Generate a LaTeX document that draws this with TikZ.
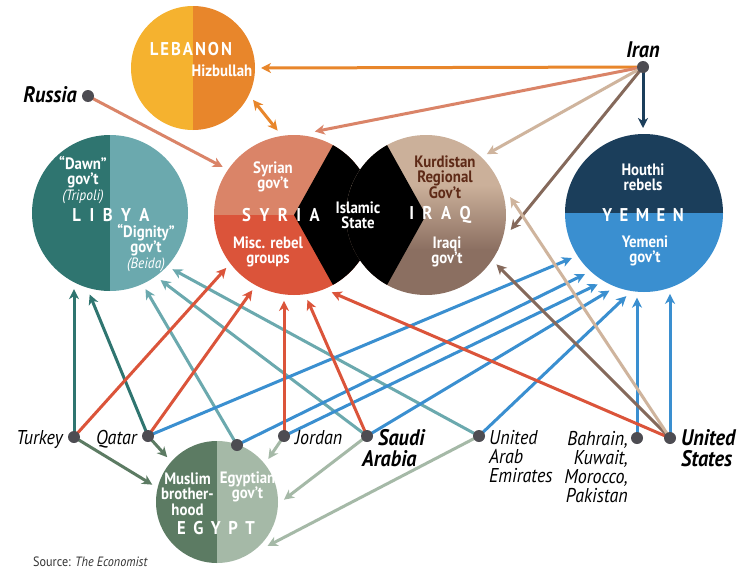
\documentclass[tikz,border=0pt]{standalone}
\usepackage{fontspec}
\setmainfont{PT Sans}[FakeStretch=0.9]
\usetikzlibrary{arrows.meta}
\definecolor{lebL}{HTML}{F5B22F}
\definecolor{lebR}{HTML}{E8862B}
\definecolor{libL}{HTML}{2F7570}
\definecolor{libR}{HTML}{6BA9AE}
\definecolor{syrT}{HTML}{DA8468}
\definecolor{syrB}{HTML}{DB543A}
\definecolor{irqT}{HTML}{CBB09A}
\definecolor{irqB}{HTML}{8B6F61}
\definecolor{yemT}{HTML}{1B3E5B}
\definecolor{yemB}{HTML}{3A8FD0}
\definecolor{egyL}{HTML}{5C7B63}
\definecolor{egyR}{HTML}{A5B9A7}
\definecolor{kurd}{HTML}{5E2A17}
\definecolor{dotc}{HTML}{4D4C52}
\definecolor{tanL}{HTML}{CFB49D}
\definecolor{brnL}{HTML}{85695B}
\newlength\capgap
\newcommand\cg{\hspace{\capgap}}
\newcommand\sublblfont{\fontsize{15}{15.5}\selectfont\mdseries\itshape}
\begin{document}
\begin{tikzpicture}[x=1pt,y=-1pt,
  region/.style={circle,inner sep=0pt,outer sep=6pt,draw=none},
  tipa/.tip={Stealth[length=10pt,width=10pt,inset=3pt]},
  conn/.style={line width=3pt,-tipa},
  dot/.style={circle,fill=dotc,minimum size=12pt,inner sep=0pt},
  lbl/.style={text=white,font=\fontsize{16.5}{15.5}\selectfont\bfseries,align=center,inner sep=0pt},
  capl/.style={text=white,font=\fontsize{18.5}{18}\selectfont\bfseries,inner sep=0pt},
  cty/.style={font=\fontsize{20}{19}\selectfont\itshape,inner sep=0pt},
  ctyb/.style={font=\fontsize{22.5}{21}\selectfont\bfseries\itshape,inner sep=0pt}]
\useasboundingbox (0,0) rectangle (750,581);
\fill[white] (0,0) rectangle (750,581);

% ---------- region circles ----------
\node[region,minimum size=124pt] (lebanon) at (193,68) {};
\node[region,minimum size=156pt] (libya) at (110,213) {};
\node[region,minimum size=160pt] (syria) at (294,215) {};
\node[region,minimum size=160pt] (iraq) at (426,215) {};
\node[region,minimum size=158pt] (yemen) at (644,213) {};
\node[region,minimum size=122pt] (egypt) at (217,502) {};

\begin{scope}
  \clip (193,68) circle[radius=62pt];
  \fill[lebL] (120,0) rectangle (193,140);
  \fill[lebR] (193,0) rectangle (270,140);
\end{scope}
\begin{scope}
  \clip (110,213) circle[radius=78pt];
  \fill[libL] (20,120) rectangle (110,300);
  \fill[libR] (110,120) rectangle (200,300);
\end{scope}
\begin{scope}
  \clip (294,215) circle[radius=80pt];
  \fill[syrT] (200,120) rectangle (380,215);
  \fill[syrB] (200,215) rectangle (380,310);
  \fill[black] (294,215) -- (367,84) -- (450,84) -- (450,346) -- (367,346) -- cycle;
\end{scope}
\begin{scope}
  \clip (426,215) circle[radius=80pt];
  \fill[irqT] (340,120) rectangle (520,186);
  \shade[top color=irqT,bottom color=irqB] (340,185) rectangle (520,250);
  \fill[irqB] (340,249) rectangle (520,310);
  \fill[black] (426,215) -- (353,84) -- (270,84) -- (270,346) -- (353,346) -- cycle;
\end{scope}
\begin{scope}
  \clip (644,213) circle[radius=79pt];
  \fill[yemT] (560,120) rectangle (730,213);
  \fill[yemB] (560,213) rectangle (730,300);
\end{scope}
\begin{scope}
  \clip (217,502) circle[radius=61pt];
  \fill[egyL] (150,430) rectangle (217,570);
  \fill[egyR] (217,430) rectangle (290,570);
\end{scope}

% ---------- actor points ----------
\coordinate (iran) at (643,67);
\coordinate (russia) at (88,96);
\coordinate (turkey) at (74,437);
\coordinate (qatar) at (148,436);
\coordinate (egdot) at (237,445);
\coordinate (jordan) at (284,436);
\coordinate (saudi) at (367,436);
\coordinate (uae) at (479,436);
\coordinate (bahrain) at (637,438);
\coordinate (us) at (670,438);

% ---------- connectors ----------
\draw[conn,lebR] (iran) -- (lebanon.0);
\draw[conn,syrT] (iran) -- (syria.76);
\draw[conn,tanL] (iran) -- (iraq.45);
\draw[conn,brnL] (iran) -- (iraq.350);
\draw[conn,yemT] (iran) -- (iran |- yemen.90);
\draw[line width=3pt,lebR,tipa-tipa] (lebanon.332) -- (syria.101);
\draw[conn,syrT] (russia) -- (syria.146);

\draw[conn,libR] (egdot) -- (libya.295);
\draw[conn,libR] (saudi) -- (libya.307);
\draw[conn,libR] (uae) -- (libya.318);
\draw[conn,libL] (turkey) -- (turkey |- libya.245);
\draw[conn,libL] (qatar) -- (libya.256);

\draw[conn,egyL] (turkey) -- (egypt.165);
\draw[conn,egyL] (qatar) -- (egypt.138);
\draw[conn,egyR] (jordan) -- (egypt.40);
\draw[conn,egyR] (saudi) -- (egypt.2);
\draw[conn,egyR] (uae) -- (egypt.319);

\draw[conn,yemB] (qatar) -- (yemen.212);
\draw[conn,yemB] (egdot) -- (yemen.226);
\draw[conn,yemB] (jordan) -- (yemen.237);
\draw[conn,yemB] (saudi) -- (yemen.246);
\draw[conn,yemB] (uae) -- (yemen.258);
\draw[conn,yemB] (bahrain) -- (bahrain |- yemen.265);
\draw[conn,yemB] (us) -- (us |- yemen.288);

\draw[conn,syrB] (turkey) -- (syria.218);
\draw[conn,syrB] (qatar) -- (syria.241);
\draw[conn,syrB] (jordan) -- (jordan |- syria.268);
\draw[conn,syrB] (saudi) -- (syria.279);
\draw[conn,syrB] (us) -- (syria.296);

\draw[conn,brnL] (us) -- (iraq.325);
\draw[conn,tanL] (us) -- (iraq.12);

% ---------- dots ----------
\foreach \p in {iran,russia,turkey,qatar,egdot,jordan,saudi,uae,bahrain,us}
  \node[dot] at (\p) {};

% ---------- region labels ----------
\node[capl] (lebT) at (191,49) {\setlength\capgap{2pt}L\cg E\cg B\cg A\cg N\cg O\cg N};
\node[lbl] (hizb) at (222,71) {Hizbullah};

\node[lbl] (dawn) at (83,180) {“Dawn”\\gov’t\\{\sublblfont(Tripoli)}};
\node[capl] (libT) at (111,215) {\setlength\capgap{8.5pt}L\cg I\cg B\cg Y\cg A};
\node[lbl] (dign) at (146,248) {“Dignity”\\gov’t\\{\sublblfont(Beida)}};

\node[lbl] (sgov) at (273,177) {Syrian\\gov’t};
\node[capl] (syrT) at (281,215) {\setlength\capgap{8.5pt}S\cg Y\cg R\cg I\cg A};
\node[lbl] (misc) at (268,252) {Misc. rebel\\groups};
\node[lbl] (isl) at (358,215) {Islamic\\State};

\node[lbl,text=kurd] (krg) at (445,177) {Kurdistan\\Regional\\Gov’t};
\node[capl] (irqT) at (440,215) {\setlength\capgap{8.5pt}I\cg R\cg A\cg Q};
\node[lbl] (igov) at (447,252) {Iraqi\\gov’t};

\node[lbl] (houthi) at (643,177) {Houthi\\rebels};
\node[capl] (yemT) at (643,215) {\setlength\capgap{7.5pt}Y\cg E\cg M\cg E\cg N};
\node[lbl] (ygov) at (645,251) {Yemeni\\gov’t};

\node[lbl] (mb) at (187.5,494) {Muslim\\brother-\\hood};
\node[lbl] (egov) at (247.5,487) {Egyptian\\gov’t};
\node[capl] (egyT) at (216,528) {\setlength\capgap{7.5pt}E\cg G\cg Y\cg P\cg T};

% ---------- actor labels ----------
\node[ctyb,anchor=base] (iranL) at (643,57) {Iran};
\node[ctyb,anchor=base east] (russiaL) at (77,102) {Russia};
\node[cty,anchor=base east] (turkeyL) at (63,444) {Turkey};
\node[cty,anchor=base east] (qatarL) at (137,444) {Qatar};
\node[cty,anchor=base west] (jordanL) at (295,444) {Jordan};
\node[ctyb,anchor=base west,align=left] (saudiL) at (362,466) {\hspace*{16pt}Saudi\\Arabia};
\node[cty,anchor=base west,align=left] (uaeL) at (489,482) {United\\Arab\\Emirates};
\node[cty,anchor=base east,align=right] (bahL) at (628,502) {Bahrain,\\Kuwait,\\Morocco,\\Pakistan};
\node[ctyb,anchor=base west,align=left] (usL) at (681,466) {United\\States};

\node[anchor=base west,inner sep=0pt,font=\fontsize{13.5}{15}\selectfont,text=black!80] (src) at (33,566) {Source: \textit{The Economist}};
\end{tikzpicture}
\end{document}
